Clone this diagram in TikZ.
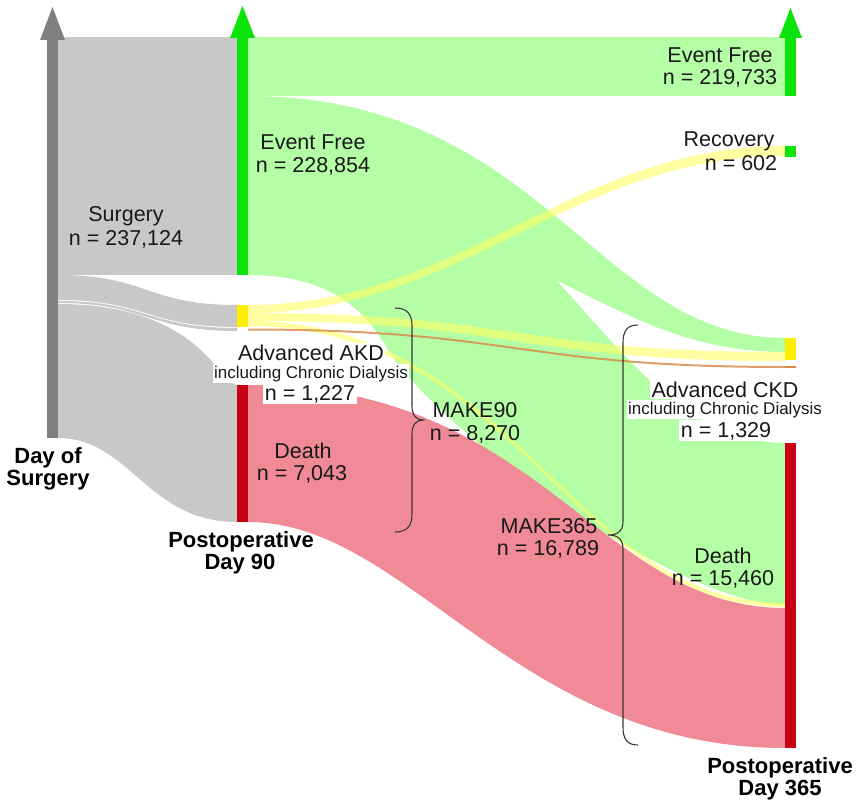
\documentclass[tikz,border=0pt]{standalone}
\usepackage{fontspec}
\setmainfont{Liberation Sans}
\definecolor{flowgray}{RGB}{200,200,200}
\definecolor{bargray}{RGB}{128,128,128}
\definecolor{flowgreen}{RGB}{180,255,165}
\definecolor{bargreen}{RGB}{10,228,10}
\definecolor{flowpink}{RGB}{240,138,150}
\definecolor{barred}{RGB}{200,0,20}
\definecolor{flowyellow}{RGB}{255,255,100}
\definecolor{baryellow}{RGB}{255,238,0}
\definecolor{floworange}{RGB}{215,135,70}
\definecolor{txt}{RGB}{25,25,25}
\definecolor{bracecol}{RGB}{55,55,55}
\begin{document}
\begin{tikzpicture}[x=1pt,y=-1pt,
  lbl/.style={font=\fontsize{21.5}{24}\selectfont, text=txt, inner sep=0pt, anchor=base},
  sublbl/.style={font=\fontsize{17}{19}\selectfont, text=txt, inner sep=0pt, anchor=base},
  bgl/.style={fill=white, inner sep=1.5pt},
  axlbl/.style={font=\bfseries\fontsize{22}{24}\selectfont, text=black, inner sep=0pt, anchor=base},
  yband/.style={fill=flowyellow, fill opacity=0.6},
  bracepath/.style={draw=bracecol, line width=1.1pt}]
\useasboundingbox (0,0) rectangle (858,802);

% ---------- stage 1 flows (gray) ----------
\fill[flowgray] (58,37) rectangle (237,275);
\fill[flowgray] (58,275) .. controls (147,275) and (147,305) .. (237,305)
  -- (237,327) .. controls (147,327) and (147,300) .. (58,300) -- cycle;
\fill[flowgray] (58,301) .. controls (147,301) and (147,328) .. (237,328)
  -- (237,331) .. controls (147,331) and (147,303) .. (58,303) -- cycle;
\fill[flowgray] (58,304) .. controls (201,304) and (219,385) .. (237,385)
  -- (237,522) .. controls (147,522) and (130,438) .. (58,438) -- cycle;

% ---------- stage 2 flows ----------
\fill[flowgreen] (248,37) rectangle (785,96);
% Event Free -> Advanced CKD
\fill[flowgreen] (248,96) .. controls (543,96) and (597,338) .. (785,338)
  -- (785,352) .. controls (597,352) and (543,209) .. (248,209) -- cycle;
% Event Free -> Death
\fill[flowgreen] (248,118) .. controls (543,118) and (597,443) .. (785,443)
  -- (785,605) .. controls (680,605) and (435,431) .. (385,345)
  .. controls (360,302) and (320,275) .. (248,275) -- cycle;
% Death -> Death
\fill[flowpink] (248,385) .. controls (543,385) and (597,608) .. (785,608)
  -- (785,748) .. controls (516,748) and (409,522) .. (248,522) -- cycle;
% yellow flows from Advanced AKD
\fill[yband] (248,305) .. controls (463,305) and (570,146) .. (785,146)
  -- (785,156) .. controls (570,156) and (463,313) .. (248,313) -- cycle;
\fill[yband] (248,313) .. controls (516,313) and (516,352) .. (785,352)
  -- (785,361) .. controls (516,361) and (516,321) .. (248,321) -- cycle;
\fill[yband] (248,321) .. controls (516,321) and (570,603) .. (785,603)
  -- (785,607) .. controls (570,607) and (516,326) .. (248,326) -- cycle;
\fill[floworange, fill opacity=0.8] (248,328.5) .. controls (516,328.5) and (516,366) .. (785,366)
  -- (785,368) .. controls (516,368) and (516,330.5) .. (248,330.5) -- cycle;

% ---------- labels with white background ----------
\node[lbl, bgl] (akd1) at (311,360) {Advanced AKD};
\node[sublbl, bgl] (akd2) at (311,378) {including Chronic Dialysis};
\node[lbl, bgl] (akd3) at (310,400) {n = 1,227};
\node[lbl, bgl] (ckd1) at (725,397) {Advanced CKD};
\node[sublbl, bgl] (ckd2) at (725,414) {including Chronic Dialysis};
\node[lbl, bgl] (ckd3) at (726,437) {n = 1,329};

% ---------- bars ----------
\fill[bargray] (47,40) rectangle (58,438);
\fill[bargray] (40,40) -- (52.5,7) -- (65,40) -- cycle;
\fill[bargreen] (237,37) rectangle (248,275);
\fill[bargreen] (230,38) -- (242.5,6) -- (255,38) -- cycle;
\fill[baryellow] (237,305) rectangle (248,327);
\fill[barred] (237,385) rectangle (248,522);
\fill[bargreen] (785,37) rectangle (796,96);
\fill[bargreen] (779,38) -- (790.5,8) -- (802,38) -- cycle;
\fill[bargreen] (785,146) rectangle (796,157);
\fill[baryellow] (785,338) rectangle (796,360);
\fill[floworange] (785,365.5) rectangle (796,368);
\fill[barred] (785,443) rectangle (796,748);

% ---------- braces ----------
\draw[bracepath] (395,308) .. controls (407,308) and (412,314) .. (412,326) -- (412,406)
  .. controls (412,415) and (416,420) .. (423,420)
  .. controls (416,420) and (412,425) .. (412,434) -- (412,514)
  .. controls (412,526) and (407,532) .. (395,532);
\draw[bracepath] (638,325) .. controls (627,325) and (623,331) .. (623,343) -- (623,521)
  .. controls (623,530) and (619,535) .. (608,535)
  .. controls (619,535) and (623,540) .. (623,549) -- (623,727)
  .. controls (623,739) and (627,745) .. (638,745);

% ---------- labels ----------
\node[lbl] (surg1) at (126,222) {Surgery};
\node[lbl] (surg2) at (126,245) {n = 237,124};
\node[lbl] (ef90a) at (313,150) {Event Free};
\node[lbl] (ef90b) at (313,173) {n = 228,854};
\node[lbl] (ef365a) at (720,63) {Event Free};
\node[lbl] (ef365b) at (720,85) {n = 219,733};
\node[lbl] (reca) at (729,147) {Recovery};
\node[lbl] (recb) at (741,171) {n = 602};
\node[lbl] (d90a) at (303,458) {Death};
\node[lbl] (d90b) at (302,480) {n = 7,043};
\node[lbl] (mk90a) at (475,417) {MAKE90};
\node[lbl] (mk90b) at (475,440) {n = 8,270};
\node[lbl] (mk365a) at (549,533) {MAKE365};
\node[lbl] (mk365b) at (548,555) {n = 16,789};
\node[lbl] (d365a) at (723,563) {Death};
\node[lbl] (d365b) at (723,585) {n = 15,460};
\node[axlbl] (ax0a) at (48,463) {Day of};
\node[axlbl] (ax0b) at (48,485) {Surgery};
\node[axlbl] (ax1a) at (241,547) {Postoperative};
\node[axlbl] (ax1b) at (240,569) {Day 90};
\node[axlbl] (ax2a) at (780,773) {Postoperative};
\node[axlbl] (ax2b) at (780,795) {Day 365};
\end{tikzpicture}
\end{document}
